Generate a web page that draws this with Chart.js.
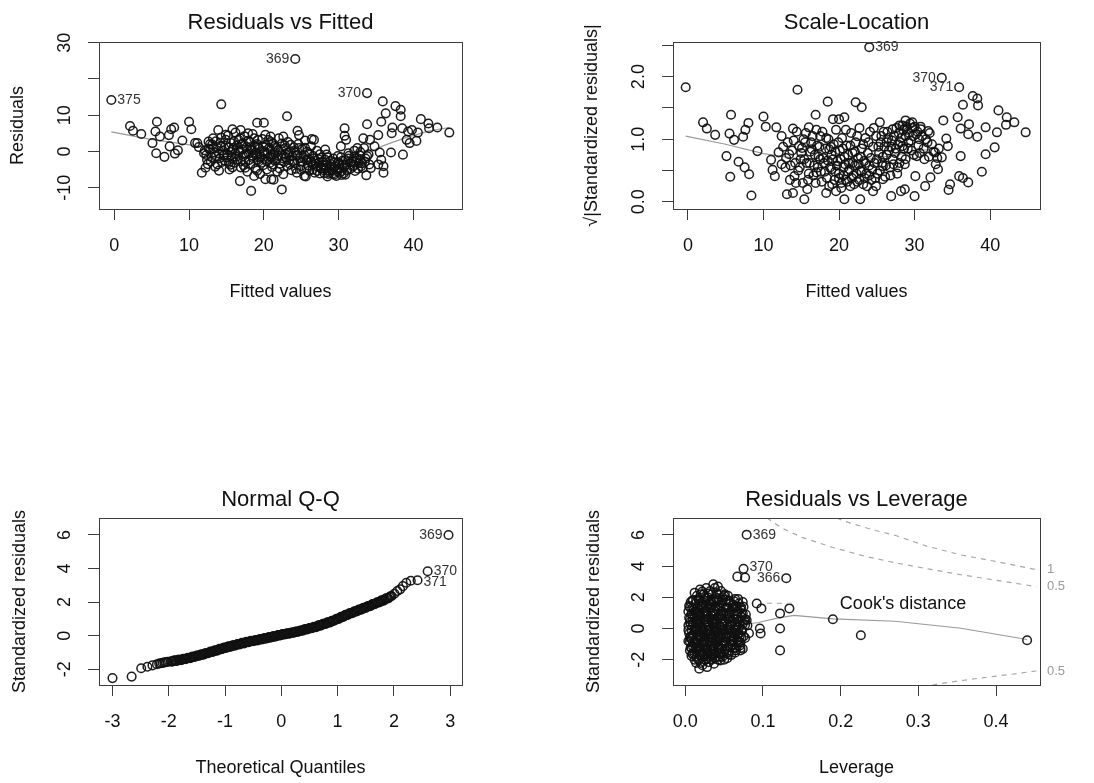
<!DOCTYPE html>
<html><head><meta charset="utf-8">
<script src="https://cdn.jsdelivr.net/npm/chart.js@4.4.0/dist/chart.umd.min.js"></script>
<style>
html,body{margin:0;padding:0;background:#fff}
body{width:1094px;height:783px;position:relative;overflow:hidden}
canvas{position:absolute}
</style></head><body>
<canvas id="c1" width="547" height="391" style="left:0;top:0"></canvas>
<canvas id="c2" width="547" height="391" style="left:547px;top:0"></canvas>
<canvas id="c3" width="547" height="392" style="left:0;top:391px"></canvas>
<canvas id="c4" width="547" height="392" style="left:547px;top:391px"></canvas>
<script>
// ---------- DATA ----------
// Residuals vs Fitted: [fitted, residual]
const residVsFitted = [
[-0.4,14.2],[2.1,7.0],[2.5,5.7],[3.6,4.8],[5.7,8.2],[5.5,5.5],[6.1,4.1],[5.1,2.3],[5.6,-0.5],[6.7,-1.5],[7.3,4.5],[7.6,6.1],[8.0,6.6],[7.4,1.4],[8.1,-0.6],[8.5,0.3],[9.1,3.0],[10.0,8.2],[10.3,6.1],[10.8,2.3],[11.3,1.2],[11.7,-5.9],[12.2,-4.5],[12.4,-2.3],[12.0,-0.5],[12.6,2.7],[13.2,3.6],[13.9,5.9],[14.0,-5.3],[13.6,-1.4],[14.3,1.4],[14.9,3.2],[15.8,6.1],[15.3,-3.2],[16.8,-8.2],[18.3,-10.9],[16.9,5.9],[17.9,5.0],[19.1,7.9],[20.0,7.9],[16.2,-0.5],[17.2,2.3],[17.5,-4.5],[18.7,-6.8],[19.2,-2.3],[18.3,0.5],[19.2,3.2],[20.2,-7.7],[16.6,3.2],[15.8,0.5],[14.7,-0.9],[12.8,0.5],[11.1,2.3],[14.3,13.0],
[24.2,25.5],[33.8,16.1],[23.1,9.7],[22.4,-10.5],[21.0,-7.7],[24.5,5.7],[24.7,4.5],[26.4,3.4],[25.4,-6.8],[22.6,4.1],[20.9,4.1],[28.2,0.5],[28.4,-0.9],[29.9,-5.0],[30.1,-5.9],[28.8,-5.9],[30.8,6.4],[30.8,4.3],[31.0,3.2],[30.3,1.4],[31.3,-0.5],[32.5,0.9],[32.9,-2.1],[33.7,-6.6],[33.8,7.5],[33.3,3.6],[34.2,3.2],[34.8,1.4],[35.3,4.5],[35.9,13.8],[36.3,10.5],[35.7,8.2],[37.2,6.6],[37.1,5.0],[37.6,12.5],[38.3,11.5],[38.3,9.7],[35.5,-0.3],[35.7,-2.3],[36.0,-4.1],[36.0,-5.9],[35.3,-3.6],[37.0,-0.3],[38.6,-0.9],[39.1,3.2],[39.3,5.5],[38.5,6.4],[39.8,5.9],[41.0,8.9],[40.6,5.2],[42.0,7.7],[42.1,6.4],[43.2,6.6],[40.4,2.9],
[44.8,5.2],[39.5,2.3],[33.0,-4.1],[32.1,-1.4],[30.7,-6.0],[29.4,-6.4],[28.5,-6.9],[27.6,-4.6],[26.7,3.2],[25.6,-6.9],[15.5,-3.7],[21.3,-7.8],
[12.3,-1.0],[12.6,0.8],[12.9,-2.8],[13.1,1.9],[13.4,-0.3],[13.6,2.8],[13.8,-3.6],[14.1,-1.9],[14.3,3.8],[14.5,0.2],[14.8,-2.6],[14.9,1.6],
[15.1,-0.9],[15.2,4.4],[15.4,-5.0],[15.6,2.3],[15.7,-1.8],[15.9,0.9],[16.1,-3.1],[16.2,5.2],[16.4,1.7],[16.5,-2.2],[16.7,-0.2],[16.8,3.6],[16.9,-4.4],[17.1,0.6],[17.2,-1.3],[17.4,4.2],[17.5,-2.9],[17.7,1.2],[17.8,-5.6],
[18.0,-0.6],[18.1,2.6],[18.2,-3.5],[18.4,0.2],[18.5,4.8],[18.6,-1.9],[18.8,1.5],[18.9,-4.8],[19.0,-0.9],[19.1,2.0],[19.3,-2.8],[19.4,0.7],[19.5,-6.2],[19.6,-1.4],[19.8,3.4],[19.9,-3.8],[20.0,0.1],[20.1,-2.1],[20.3,1.8],[20.4,-5.0],[20.5,-0.7],[20.6,3.1],[20.8,-3.2],[20.9,0.4],[21.0,-1.6],[21.1,-4.3],
[21.2,2.2],[21.4,-0.2],[21.5,-2.6],[21.6,1.0],[21.8,-5.6],[21.9,-1.2],[22.0,3.6],[22.2,-3.4],[22.3,0.5],[22.5,-1.9],[22.6,-6.3],[22.8,1.6],[22.9,-0.8],[23.1,-4.0],[23.2,2.6],[23.4,-2.4],[23.5,0.0],[23.7,-5.2],[23.8,-1.3],[24.0,1.1],[24.1,-3.2],[24.3,-0.4],[24.4,-5.9],[24.6,2.0],[24.8,-1.9],[24.9,-4.1],
[25.1,0.6],[25.2,-2.8],[25.4,-1.0],[25.5,3.0],[25.7,-4.6],[25.8,-0.1],[26.0,-2.2],[26.1,-5.3],[26.3,1.4],[26.5,-3.6],[26.6,-1.3],[26.8,-5.9],[26.9,-2.6],[27.1,0.2],[27.2,-4.2],[27.4,-3.0],[27.5,-6.1],[27.7,-1.7],[27.9,-3.8],[28.0,-5.2],[28.2,-2.3],[28.4,-4.6],[28.6,-6.2],
[28.9,-3.4],[29.1,-5.0],[29.3,-2.0],[29.5,-4.2],[29.7,-6.8],[29.9,-3.0],[30.1,-4.6],[30.3,-1.6],[30.4,-6.5],[30.6,-3.6],[30.9,-2.4],[31.1,-5.2],[31.4,-1.2],[31.6,-3.0],[31.9,-4.2],[32.1,0.2],[32.3,-2.6],[32.6,-4.8],[32.8,-1.0],[33.1,-3.3],[33.4,0.9],[33.6,-2.0],[34.0,-0.8],[34.3,-4.6],
[12.1,0.3],[12.5,-3.5],[12.8,2.0],[13.0,-1.6],[13.3,0.9],[13.5,-4.2],[13.7,1.2],[14.0,-0.6],[14.2,2.4],[14.4,-2.9],[14.6,-1.2],[14.9,4.6],[15.0,-1.7],[15.3,1.1],[15.5,-0.2],[15.8,-4.4],[16.0,2.8],[16.3,-1.5],[16.6,0.3],[16.9,-2.7],[17.0,1.9],[17.3,-3.8],[17.6,-0.6],[17.9,2.9],
[18.0,-2.4],[18.3,1.2],[18.5,-1.2],[18.7,3.6],[18.9,-0.3],[19.1,-5.3],[19.2,1.1],[19.4,-1.7],[19.7,-3.1],[19.9,1.3],[20.1,-0.4],[20.2,4.6],[20.4,-2.7],[20.7,0.9],[20.8,-1.4],[21.0,2.6],[21.2,-3.6],[21.3,-0.9],[21.5,1.5],[21.7,-2.0],[21.9,0.3],[22.1,-4.7],[22.3,-1.1],[22.4,2.2],[22.7,-2.9],[22.9,0.9],
[23.0,-1.8],[23.3,-0.4],[23.5,-3.5],[23.6,1.8],[23.9,-2.6],[24.1,0.2],[24.3,-4.8],[24.5,-1.1],[24.7,0.9],[24.9,-2.8],[25.0,-5.1],[25.3,-1.6],[25.5,1.0],[25.7,-2.4],[25.9,-3.9],[26.1,-0.6],[26.3,-2.9],[26.5,-5.0],[26.7,-1.9],[26.9,-3.4],[27.1,-5.4],[27.3,-2.2],[27.5,-0.8],[27.7,-4.7],[27.9,-2.9],
[28.1,-6.0],[28.3,-3.9],[28.5,-1.6],[28.7,-5.3],[28.9,-2.6],[29.1,-4.2],[29.3,-6.0],[29.5,-3.0],[29.7,-5.4],[29.9,-1.3],[30.1,-3.4],[30.3,-5.6],[30.5,-2.6],[30.7,-4.4],[30.9,-6.4],[31.1,-3.6],[31.3,-2.0],[31.5,-4.9],[31.8,-2.7],[32.0,-3.8],[32.2,-5.4],[32.4,-1.8],[32.7,-3.2],[32.9,-0.2],[33.2,-4.6],[33.5,-2.9],[33.8,-1.3],[34.1,-3.6]
];
const residSmooth = [[-0.4,5.4],[4.7,3.4],[11,1.5],[15,0.2],[20,-0.9],[25,-2.2],[28.5,-3.5],[31,-3.0],[33.5,-0.8],[36,1.6],[39,3.8],[42,5.6],[44.8,6.6]];

// Scale-Location: [fitted, sqrt|standardized residual|]
const scaleLocation = [
[-0.3,1.83],[2.0,1.27],[2.5,1.17],[3.6,1.07],[5.7,1.39],[5.5,1.09],[6.1,0.99],[5.1,0.73],[6.7,0.64],[7.3,1.04],[7.6,1.15],[8.0,1.26],[7.5,0.55],[8.1,0.44],[5.6,0.40],[8.4,0.10],[9.2,0.81],[10.0,1.36],[10.3,1.20],[11.0,0.67],[11.2,0.51],[11.7,1.19],[12.4,1.05],[12.0,0.79],[13.1,0.12],[13.9,0.14],[13.9,1.17],[14.5,1.79],[15.8,0.20],[15.4,0.04],[16.0,1.19],[16.9,1.39],[13.4,0.76],[14.7,0.89],[14.1,0.41],[11.5,0.41],[12.4,0.60],[18.5,1.60],[18.3,0.14],[19.6,0.17],[19.2,1.32],[17.5,1.05],[15.3,1.00],[16.4,0.84],[17.5,0.68],[17.0,0.47],[18.7,0.84],[20.0,1.32],[14.9,0.68],
[24.0,2.47],[33.6,1.98],[35.9,1.83],[22.2,1.59],[23.0,1.51],[20.7,1.35],[25.4,1.27],[28.8,1.30],[29.7,1.27],[30.8,1.16],[31.8,1.13],[33.8,1.30],[36.4,1.55],[37.7,1.69],[38.3,1.65],[38.4,1.54],[35.7,1.35],[36.1,1.17],[37.2,1.24],[37.1,1.08],[38.3,1.04],[39.4,1.19],[40.9,1.11],[41.1,1.46],[42.2,1.35],[42.1,1.23],[43.2,1.27],[40.6,0.87],[39.4,0.76],[38.9,0.48],[37.1,0.31],[35.9,0.41],[34.7,0.28],[36.1,0.73],[34.4,0.89],[34.2,1.01],[33.6,0.71],[32.7,0.79],[33.1,0.52],[32.1,0.39],[31.4,0.25],[30.3,0.73],[30.6,1.00],[30.1,0.41],[28.8,1.05],[28.4,0.89],[27.8,0.55],[28.7,0.20],[30.0,0.09],[26.9,0.09],[28.2,0.17],[25.8,0.57],[25.8,0.36],[24.9,0.25],[24.5,0.17],[22.8,0.04],[20.7,0.04],[26.3,0.95],[27.1,1.16],[28.0,1.22],[44.7,1.11],[34.5,0.19],[36.4,0.38],
[12.6,0.88],[12.9,0.55],[13.2,0.95],[13.5,0.35],[13.8,0.82],[14.2,0.62],[14.4,1.12],[14.6,0.50],[15.0,0.78],[15.2,0.30],[15.5,0.95],[15.7,0.62],[16.0,0.45],[16.2,0.80],[16.5,1.05],[16.7,0.58],[16.9,0.30],[17.1,0.90],[17.3,0.72],[17.6,0.48],[17.8,1.12],[18.0,0.62],[18.2,0.85],[18.4,0.38],[18.6,1.00],[18.8,0.55],[19.0,0.75],[19.1,0.28],[19.3,0.92],[19.5,0.48],[19.6,1.15],[19.8,0.65],[20.0,0.38],[20.1,0.82],[20.3,0.22],[20.4,1.02],[20.6,0.55],[20.7,0.72],[20.9,0.35],[21.0,0.90],[21.2,0.48],[21.3,0.62],[21.5,0.25],[21.6,1.10],[21.8,0.78],[21.9,0.42],[22.1,0.58],[22.2,0.95],[22.4,0.32],[22.5,0.70],[22.7,1.18],[22.8,0.50],[23.0,0.85],[23.2,0.28],[23.3,0.65],[23.5,1.02],[23.6,0.45],[23.8,0.78],[24.0,0.58],[24.1,1.12],[24.3,0.35],[24.5,0.88],[24.7,0.62],[24.9,1.05],[25.1,0.45],[25.3,0.78],[25.5,0.95],[25.7,0.62],[25.9,1.12],[26.1,0.40],[26.3,0.75],[26.5,1.02],[26.7,0.55],[26.9,0.88],[27.1,0.68],[27.3,1.05],[27.5,0.85],[27.7,0.45],[27.9,1.10],[28.1,0.95],[28.3,0.72],[28.5,1.15],[28.7,0.60],[28.9,1.20],[29.1,0.85],[29.3,1.10],[29.5,0.98],[29.7,1.18],[29.9,0.75],[30.2,1.08],[30.5,0.90],[30.8,1.20],[31.2,0.85],[31.5,1.00],[31.9,0.72],[32.3,0.92],[32.8,0.60],[33.2,0.85],
[13.0,0.70],[13.6,0.58],[14.0,0.98],[14.3,0.30],[14.8,0.55],[15.1,0.86],[15.4,0.68],[15.6,1.10],[15.9,0.35],[16.1,0.62],[16.3,0.95],[16.6,0.42],[16.8,0.75],[17.0,1.15],[17.2,0.55],[17.4,0.88],[17.7,0.32],[17.9,0.70],[18.1,0.48],[18.3,1.02],[18.5,0.66],[18.7,0.25],[18.9,0.88],[19.0,0.52],[19.2,0.68],[19.4,0.35],[19.5,0.80],[19.7,0.58],[19.9,0.95],[20.0,0.45],[20.2,0.68],[20.3,0.30],[20.5,0.85],[20.6,0.42],[20.8,0.60],[20.9,1.15],[21.1,0.32],[21.2,0.75],[21.4,0.52],[21.5,0.90],[21.7,0.38],[21.8,0.62],[22.0,0.28],[22.1,0.80],[22.3,0.45],[22.4,1.05],[22.6,0.60],[22.7,0.35],[22.9,0.72],[23.0,0.48],[23.2,0.92],[23.4,0.38],[23.5,0.62],[23.7,0.25],[23.9,0.95],[24.0,0.42],[24.2,0.70],[24.4,0.52],[24.6,1.18],[24.8,0.38],[25.0,0.68],[25.2,0.88],[25.4,0.50],[25.6,1.05],[25.8,0.72],[26.0,0.88],[26.2,0.58],[26.4,1.12],[26.6,0.82],[26.8,0.42],[27.0,0.98],[27.2,0.60],[27.4,0.78],[27.6,1.18],[27.8,0.92],[28.0,0.62],[28.2,1.02],[28.4,1.22],[28.6,0.85],[28.8,0.68],[29.0,1.15],[29.2,0.95],[29.4,1.25],[29.6,0.82],[29.8,1.05],[30.0,1.20],[30.4,1.12],[30.7,0.78],[31.0,1.05],[31.3,0.68],[31.7,0.95],[32.0,1.10],[32.5,0.80],[33.0,0.70]
];
const scaleSmooth = [[-0.3,1.05],[5,0.92],[10,0.77],[15,0.68],[20,0.63],[25,0.70],[30,0.80],[32,0.84]];

// Normal Q-Q: [theoretical quantile, standardized residual]
const normalQQ = [
[-3.00,-2.53],[-2.66,-2.44],[-2.49,-1.94],[-2.38,-1.85],[-2.29,-1.77],[-2.21,-1.70],[-2.17,-1.66],[-2.14,-1.64],[-2.11,-1.62],[-2.08,-1.60],[-2.05,-1.58],[-2.02,-1.56],
[-1.96,-1.53],[-1.92,-1.51],[-1.88,-1.49],[-1.84,-1.47],[-1.80,-1.45],[-1.76,-1.42],[-1.72,-1.39],[-1.68,-1.36],[-1.64,-1.33],[-1.60,-1.30],
[-1.56,-1.26],[-1.52,-1.23],[-1.48,-1.19],[-1.44,-1.16],[-1.40,-1.12],[-1.36,-1.08],[-1.32,-1.04],[-1.28,-1.00],[-1.24,-0.96],[-1.20,-0.92],
[-1.16,-0.88],[-1.12,-0.84],[-1.08,-0.80],[-1.04,-0.76],[-1.00,-0.72],[-0.96,-0.68],[-0.92,-0.65],[-0.88,-0.61],[-0.84,-0.58],[-0.80,-0.54],
[-0.76,-0.51],[-0.72,-0.48],[-0.68,-0.44],[-0.64,-0.41],[-0.60,-0.38],[-0.56,-0.35],[-0.52,-0.32],[-0.48,-0.30],[-0.44,-0.27],[-0.40,-0.24],
[-0.36,-0.21],[-0.32,-0.18],[-0.28,-0.16],[-0.24,-0.13],[-0.20,-0.10],[-0.16,-0.07],[-0.12,-0.04],[-0.08,-0.01],[-0.04,0.02],[0.00,0.05],
[0.04,0.08],[0.08,0.10],[0.12,0.13],[0.16,0.15],[0.20,0.18],[0.24,0.21],[0.28,0.24],[0.32,0.27],[0.36,0.31],[0.40,0.34],
[0.44,0.38],[0.48,0.41],[0.52,0.45],[0.56,0.48],[0.60,0.52],[0.64,0.56],[0.68,0.61],[0.72,0.65],[0.76,0.70],[0.80,0.74],
[0.84,0.79],[0.88,0.84],[0.92,0.89],[0.96,0.95],[1.00,1.00],[1.04,1.06],[1.08,1.12],[1.12,1.18],[1.16,1.24],[1.20,1.30],
[1.24,1.35],[1.28,1.40],[1.32,1.45],[1.36,1.51],[1.40,1.56],[1.44,1.61],[1.48,1.66],[1.52,1.72],[1.56,1.77],[1.60,1.82],
[1.64,1.88],[1.68,1.93],[1.72,1.99],[1.76,2.04],[1.80,2.10],[1.84,2.17],[1.88,2.23],[1.92,2.30],[1.96,2.36],
[-1.94,-1.55],[-1.90,-1.47],[-1.86,-1.50],[-1.82,-1.43],[-1.78,-1.46],[-1.74,-1.38],[-1.70,-1.40],[-1.66,-1.32],[-1.62,-1.34],[-1.58,-1.25],
[-1.54,-1.27],[-1.50,-1.18],[-1.46,-1.20],[-1.42,-1.11],[-1.38,-1.13],[-1.34,-1.03],[-1.30,-1.05],[-1.26,-0.95],[-1.22,-0.97],[-1.18,-0.87],
[-1.14,-0.89],[-1.10,-0.79],[-1.06,-0.81],[-1.02,-0.71],[-0.98,-0.73],[-0.94,-0.64],[-0.90,-0.66],[-0.86,-0.57],[-0.82,-0.59],[-0.78,-0.50],
[-0.74,-0.52],[-0.70,-0.43],[-0.66,-0.46],[-0.62,-0.37],[-0.58,-0.39],[-0.54,-0.31],[-0.50,-0.33],[-0.46,-0.26],[-0.42,-0.28],[-0.38,-0.20],
[-0.34,-0.22],[-0.30,-0.14],[-0.26,-0.17],[-0.22,-0.09],[-0.18,-0.11],[-0.14,-0.03],[-0.10,-0.05],[-0.06,0.03],[-0.02,0.01],[0.02,0.09],
[0.06,0.07],[0.10,0.14],[0.14,0.12],[0.18,0.19],[0.22,0.17],[0.26,0.25],[0.30,0.23],[0.34,0.31],[0.38,0.30],[0.42,0.39],
[0.46,0.37],[0.50,0.46],[0.54,0.44],[0.58,0.53],[0.62,0.51],[0.66,0.61],[0.70,0.60],[0.74,0.70],[0.78,0.69],[0.82,0.79],
[0.86,0.78],[0.90,0.89],[0.94,0.89],[0.98,1.00],[1.02,0.99],[1.06,1.12],[1.10,1.11],[1.14,1.24],[1.18,1.23],[1.22,1.35],
[1.26,1.34],[1.30,1.45],[1.34,1.44],[1.38,1.56],[1.42,1.55],[1.46,1.66],[1.50,1.65],[1.54,1.77],[1.58,1.76],[1.62,1.88],
[1.66,1.87],[1.70,1.99],[1.74,1.98],[1.78,2.10],[1.82,2.09],[1.86,2.23],[1.90,2.22],[1.94,2.35],
[2.01,2.50],[2.06,2.66],[2.11,2.76],[2.16,2.95],[2.22,3.15],[2.30,3.27],[2.42,3.30],[2.60,3.84],[2.97,6.00]
];

// Residuals vs Leverage: [leverage, standardized residual]
const residVsLeverage = [
[0.079,6.02],[0.075,3.83],[0.067,3.33],[0.077,3.27],[0.130,3.23],[0.036,2.84],[0.042,2.69],[0.022,2.37],[0.018,-2.58],[0.028,-2.47],[0.071,-1.40],[0.077,-0.60],[0.092,1.61],[0.098,1.29],[0.096,0.00],[0.097,-0.32],[0.122,0.97],[0.134,1.29],[0.122,0.00],[0.122,-1.40],[0.190,0.60],[0.226,-0.43],[0.440,-0.75],
[0.005,1.45],[0.006,0.4],[0.006,-0.6],[0.007,-1.2],[0.008,0.9],[0.008,-0.1],[0.009,1.8],[0.009,-1.6],[0.010,0.3],[0.010,-0.9],[0.011,1.2],[0.011,-0.4],[0.012,-2.0],[0.012,0.7],[0.013,-1.3],[0.013,1.6],[0.014,0.0],[0.014,-0.7],[0.015,2.1],[0.015,-1.8],[0.015,0.5],
[0.016,-0.2],[0.016,1.0],[0.017,-1.1],[0.017,1.9],[0.018,0.3],[0.018,-1.5],[0.019,-0.5],[0.019,1.4],[0.020,-2.2],[0.020,0.8],[0.021,-0.9],[0.021,0.1],[0.022,1.7],[0.022,-1.7],[0.023,0.5],[0.023,-0.3],[0.024,2.2],[0.024,-1.2],[0.025,1.1],[0.025,-0.7],
[0.026,0.2],[0.026,-2.0],[0.027,1.5],[0.027,-0.1],[0.028,-1.4],[0.028,0.8],[0.029,2.0],[0.029,-0.8],[0.030,0.4],[0.030,-1.8],[0.031,1.2],[0.031,-0.4],[0.032,2.4],[0.032,-1.1],[0.033,0.0],[0.033,1.7],[0.034,-1.6],[0.034,0.6],[0.035,-0.6],[0.035,1.0],
[0.036,-1.3],[0.036,0.3],[0.037,1.9],[0.037,-0.2],[0.038,-1.9],[0.038,0.9],[0.039,1.4],[0.039,-0.9],[0.040,0.1],[0.040,2.3],[0.041,-1.5],[0.041,0.6],[0.042,-0.4],[0.042,1.2],[0.043,-1.1],[0.043,1.8],[0.044,0.2],[0.044,-1.8],[0.045,0.9],[0.045,-0.6],
[0.046,1.5],[0.047,-1.3],[0.047,0.3],[0.048,2.0],[0.049,-0.3],[0.049,1.0],[0.050,-1.6],[0.051,0.5],[0.051,2.2],[0.052,-0.9],[0.053,1.3],[0.053,-0.1],[0.054,-1.9],[0.055,0.8],[0.056,1.7],[0.057,-0.5],[0.058,0.2],[0.058,-1.2],[0.059,1.1],[0.060,-0.2],
[0.061,1.5],[0.062,-0.8],[0.063,0.6],[0.064,1.9],[0.065,-1.4],[0.066,0.1],[0.067,1.1],[0.068,-0.4],[0.069,1.6],[0.070,0.4],[0.071,-0.9],[0.072,1.0],[0.073,-0.1],[0.074,1.7],[0.076,0.5],[0.078,0.9],[0.080,0.2],[0.082,-0.3],
[0.012,2.3],[0.019,2.5],[0.027,2.6],[0.034,2.2],[0.046,2.4],[0.055,2.1],[0.038,2.6],
[0.007,1.7],[0.014,1.85],[0.021,1.55],[0.026,1.95],[0.031,1.6],[0.036,1.75],[0.041,1.95],[0.046,1.65],[0.052,1.85],[0.058,1.6],[0.063,1.75],[0.068,1.9],
[0.004,1.1],[0.009,1.3],[0.013,1.05],[0.018,1.2],[0.022,1.45],[0.027,1.1],[0.032,1.35],[0.037,1.15],[0.042,1.45],[0.047,1.1],[0.052,1.35],[0.057,1.05],[0.062,1.3],[0.066,1.45],[0.071,1.25],[0.075,1.4],
[0.005,0.7],[0.010,0.85],[0.014,0.55],[0.019,0.75],[0.024,0.95],[0.028,0.6],[0.033,0.85],[0.038,0.55],[0.043,0.8],[0.048,0.65],[0.053,0.95],[0.058,0.7],[0.063,0.9],[0.067,0.6],[0.072,0.75],[0.077,0.6],
[0.004,0.2],[0.009,0.45],[0.013,0.15],[0.017,0.35],[0.022,0.05],[0.026,0.45],[0.031,0.15],[0.035,0.4],[0.040,0.25],[0.045,0.05],[0.050,0.35],[0.055,0.1],[0.060,0.45],[0.064,0.25],[0.069,0.05],[0.074,0.3],[0.079,0.55],
[0.005,-0.3],[0.009,-0.45],[0.013,-0.2],[0.018,-0.4],[0.022,-0.1],[0.027,-0.35],[0.031,-0.15],[0.036,-0.45],[0.041,-0.2],[0.046,-0.35],[0.050,-0.05],[0.055,-0.3],[0.060,-0.45],[0.064,-0.15],[0.069,-0.3],[0.075,-0.5],
[0.004,-0.8],[0.008,-0.65],[0.012,-0.95],[0.016,-0.7],[0.021,-0.55],[0.025,-0.9],[0.030,-0.65],[0.034,-0.85],[0.039,-0.55],[0.044,-0.75],[0.048,-0.95],[0.053,-0.6],[0.058,-0.8],[0.063,-0.55],[0.067,-0.75],[0.072,-0.6],
[0.006,-1.4],[0.010,-1.15],[0.014,-1.45],[0.019,-1.25],[0.023,-1.05],[0.028,-1.3],[0.032,-1.45],[0.037,-1.1],[0.042,-1.3],[0.046,-1.05],[0.051,-1.35],[0.056,-1.5],[0.061,-1.1],[0.066,-1.25],[0.070,-1.1],[0.074,-1.3],
[0.008,-1.75],[0.012,-1.6],[0.016,-1.95],[0.021,-1.55],[0.025,-1.8],[0.029,-1.6],[0.033,-1.95],[0.038,-1.65],[0.043,-1.55],[0.048,-1.8],[0.053,-1.6],[0.059,-1.7],[0.064,-1.55],
[0.014,-2.2],[0.022,-2.35],[0.030,-2.15],[0.037,-2.25],[0.045,-2.05],
[0.020,2.2],[0.030,2.25],[0.042,2.2],[0.050,2.1],
[0.010,1.8],[0.018,1.8],[0.025,1.8],[0.033,1.8],[0.040,1.8],[0.048,1.8],[0.056,1.8],
[0.006,1.35],[0.015,1.35],[0.024,1.35],[0.034,1.35],[0.044,1.35],[0.054,1.35],[0.064,1.35],[0.072,1.35],
[0.008,0.95],[0.017,0.95],[0.026,0.95],[0.036,0.95],[0.046,0.95],[0.056,0.95],[0.066,0.95],[0.074,0.95],
[0.006,0.6],[0.016,0.6],[0.026,0.6],[0.036,0.6],[0.046,0.6],[0.056,0.6],[0.066,0.6],
[0.007,0.25],[0.019,0.25],[0.029,0.25],[0.038,0.25],[0.048,0.25],[0.058,0.25],[0.067,0.25],[0.077,0.25],
[0.004,-0.1],[0.012,-0.1],[0.020,-0.1],[0.030,-0.1],[0.039,-0.1],[0.048,-0.1],[0.057,-0.1],[0.066,-0.1],[0.073,-0.1],
[0.007,-0.5],[0.016,-0.5],[0.025,-0.5],[0.034,-0.5],[0.043,-0.5],[0.052,-0.5],[0.062,-0.5],[0.070,-0.5],
[0.006,-0.85],[0.014,-0.85],[0.023,-0.85],[0.032,-0.85],[0.041,-0.85],[0.050,-0.85],[0.060,-0.85],[0.069,-0.85],
[0.008,-1.25],[0.017,-1.25],[0.026,-1.25],[0.035,-1.25],[0.044,-1.25],[0.054,-1.25],[0.063,-1.25],[0.071,-1.25],
[0.010,-1.65],[0.019,-1.65],[0.027,-1.65],[0.036,-1.65],[0.046,-1.65],[0.056,-1.65],
[0.018,-2.0],[0.026,-2.0],[0.034,-2.0],[0.042,-2.0],[0.050,-2.0]
];
const leverageSmooth = [[0.007,-0.32],[0.036,0.0],[0.069,0.21],[0.094,0.39],[0.12,0.68],[0.14,0.84],[0.19,0.62],[0.27,0.47],[0.355,0.02],[0.44,-0.70]];
const cookUpper1  = [[0.195,7.1],[0.204,6.9],[0.24,6.35],[0.272,5.95],[0.31,5.3],[0.355,4.72],[0.40,4.3],[0.452,3.78]];
const cookUpper05 = [[0.105,7.1],[0.124,6.45],[0.15,5.85],[0.19,5.2],[0.23,4.65],[0.272,4.2],[0.31,3.85],[0.355,3.45],[0.40,3.1],[0.452,2.69]];
const cookLower05 = [[0.318,-3.62],[0.34,-3.44],[0.38,-3.17],[0.42,-2.93],[0.452,-2.72]];

// Tick values & labels
const fittedTicks = [0,10,20,30,40];
const fittedTickLabels = ['0','10','20','30','40'];
const residTicks = [-10,0,10,20,30];
const residTickLabels = ['-10','0','10','','30'];
const sqrtTicks = [0,0.5,1,1.5,2,2.5];
const sqrtTickLabels = ['0.0','','1.0','','2.0',''];
const qqTicks = [-3,-2,-1,0,1,2,3];
const qqTickLabels = ['-3','-2','-1','0','1','2','3'];
const stdTicks = [-2,0,2,4,6];
const stdTickLabels = ['-2','0','2','4','6'];
const levTicks = [0,0.1,0.2,0.3,0.4];
const levTickLabels = ['0.0','0.1','0.2','0.3','0.4'];

// ---------- RENDERING ----------
const FONT = "'Liberation Sans', Arial, Helvetica, sans-serif";
const toXY = arr => arr.map(p => ({x: p[0], y: p[1]}));
const SPECS = {};

const textPlugin = {
  id: 'rtext',
  afterDraw(chart) {
    const s = SPECS[chart.canvas.id];
    const {ctx, chartArea: a} = chart;
    const xs = chart.scales.x, ys = chart.scales.y;
    ctx.save();
    ctx.strokeStyle = '#3c3c3c'; ctx.lineWidth = 1;
    ctx.strokeRect(a.left + 0.5, a.top + 0.5, a.right - a.left, a.bottom - a.top);
    ctx.fillStyle = '#111'; ctx.textAlign = 'center'; ctx.textBaseline = 'middle';
    ctx.font = '22px ' + FONT;
    ctx.fillText(s.title, (a.left + a.right) / 2, s.titleY);
    ctx.font = '18px ' + FONT;
    ctx.fillText(s.xTitle, (a.left + a.right) / 2, s.xTitleY);
    ctx.save(); ctx.translate(s.yTitleX, (a.top + a.bottom) / 2); ctx.rotate(-Math.PI / 2);
    ctx.fillText(s.yTitle, 0, 0); ctx.restore();
    s.yTicks.forEach((v, i) => {
      const lab = s.yTickLabels[i]; if (!lab) return;
      ctx.save(); ctx.translate(a.left - 34, ys.getPixelForValue(v)); ctx.rotate(-Math.PI / 2);
      ctx.fillText(lab, 0, 0); ctx.restore();
    });
    ctx.font = '14px ' + FONT; ctx.fillStyle = '#333';
    s.pointLabels.forEach(l => {
      const px = xs.getPixelForValue(l.x), py = ys.getPixelForValue(l.y);
      ctx.textAlign = l.side === 'left' ? 'right' : 'left';
      ctx.fillText(l.text, px + (l.side === 'left' ? -6 : 6), py + (l.dy || 0));
    });
    if (s.extra) s.extra(ctx, chart, xs, ys, a);
    ctx.restore();
  }
};

function makePanel(id, s) {
  SPECS[id] = s;
  const cv = document.getElementById(id);
  const W = cv.width, H = cv.height;
  const gridOpt = {drawOnChartArea: false, drawTicks: true, tickLength: 11, color: '#3c3c3c', lineWidth: 1};
  const datasets = [{
    data: toXY(s.points), showLine: false, pointStyle: 'circle', pointRadius: 4.3,
    pointBorderWidth: 1.5, pointBorderColor: 'rgba(17,17,17,0.95)', pointBackgroundColor: 'rgba(0,0,0,0)'
  }];
  (s.lines || []).forEach(l => datasets.push({
    data: toXY(l.data), showLine: true, pointRadius: 0, borderColor: l.color, borderWidth: l.width || 1,
    borderDash: l.dash || [], fill: false, tension: 0
  }));
  new Chart(cv, {
    type: 'scatter',
    data: {datasets},
    options: {
      responsive: false, animation: false, events: [],
      layout: {padding: {left: 0, top: s.area.top, right: W - s.area.right, bottom: H - s.area.bottom - 80}},
      plugins: {legend: {display: false}, tooltip: {enabled: false}},
      scales: {
        x: {type: 'linear', position: 'bottom', min: s.xMin, max: s.xMax,
            afterFit: sc => { sc.height = 80; },
            afterBuildTicks: sc => { sc.ticks = s.xTicks.map(v => ({value: v})); },
            ticks: {autoSkip: false, maxRotation: 0, minRotation: 0, padding: 15, color: '#111',
                    font: {family: FONT, size: 18}, callback: (v, i) => s.xTickLabels[i]},
            grid: gridOpt, border: {display: false}},
        y: {type: 'linear', position: 'left', min: s.yMin, max: s.yMax,
            afterFit: sc => { sc.width = s.area.left; },
            afterBuildTicks: sc => { sc.ticks = s.yTicks.map(v => ({value: v})); },
            ticks: {display: false},
            grid: gridOpt, border: {display: false}}
      }
    },
    plugins: [textPlugin]
  });
}

makePanel('c1', {
  area: {left: 99, right: 462, top: 42, bottom: 209},
  xMin: -2.05, xMax: 46.5, yMin: -15.9, yMax: 30.2,
  xTicks: fittedTicks, xTickLabels: fittedTickLabels, yTicks: residTicks, yTickLabels: residTickLabels,
  title: 'Residuals vs Fitted', titleY: 23, xTitle: 'Fitted values', xTitleY: 292, yTitle: 'Residuals', yTitleX: 18,
  points: residVsFitted,
  lines: [{data: residSmooth, color: '#9a9a9a', width: 1.2}],
  pointLabels: [{x: -0.4, y: 14.2, text: '375', side: 'right'}, {x: 24.2, y: 25.5, text: '369', side: 'left'}, {x: 33.8, y: 16.1, text: '370', side: 'left'}]
});
makePanel('c2', {
  area: {left: 126, right: 493, top: 42, bottom: 209},
  xMin: -1.98, xMax: 46.6, yMin: -0.115, yMax: 2.553,
  xTicks: fittedTicks, xTickLabels: fittedTickLabels, yTicks: sqrtTicks, yTickLabels: sqrtTickLabels,
  title: 'Scale-Location', titleY: 23, xTitle: 'Fitted values', xTitleY: 292, yTitle: '\u221A|Standardized residuals|', yTitleX: 45,
  points: scaleLocation,
  lines: [{data: scaleSmooth, color: '#9a9a9a', width: 1.2}],
  pointLabels: [{x: 24.0, y: 2.47, text: '369', side: 'right'}, {x: 33.6, y: 1.98, text: '370', side: 'left'}, {x: 35.9, y: 1.83, text: '371', side: 'left'}]
});
makePanel('c3', {
  area: {left: 99, right: 462, top: 127, bottom: 294},
  xMin: -3.24, xMax: 3.21, yMin: -2.94, yMax: 7.01,
  xTicks: qqTicks, xTickLabels: qqTickLabels, yTicks: stdTicks, yTickLabels: stdTickLabels,
  title: 'Normal Q-Q', titleY: 109, xTitle: 'Theoretical Quantiles', xTitleY: 377, yTitle: 'Standardized residuals', yTitleX: 20,
  points: normalQQ,
  pointLabels: [{x: 2.97, y: 6.0, text: '369', side: 'left'}, {x: 2.60, y: 3.84, text: '370', side: 'right'}, {x: 2.42, y: 3.30, text: '371', side: 'right', dy: 2}]
});
makePanel('c4', {
  area: {left: 126, right: 493, top: 127, bottom: 294},
  xMin: -0.0158, xMax: 0.4566, yMin: -3.62, yMax: 7.09,
  xTicks: levTicks, xTickLabels: levTickLabels, yTicks: stdTicks, yTickLabels: stdTickLabels,
  title: 'Residuals vs Leverage', titleY: 109, xTitle: 'Leverage', xTitleY: 377, yTitle: 'Standardized residuals', yTitleX: 47,
  points: residVsLeverage,
  lines: [
    {data: leverageSmooth, color: '#9a9a9a', width: 1.2},
    {data: cookUpper1, color: '#a8a8a8', width: 1.2, dash: [5, 5]},
    {data: cookUpper05, color: '#a8a8a8', width: 1.2, dash: [5, 5]},
    {data: cookLower05, color: '#a8a8a8', width: 1.2, dash: [5, 5]}
  ],
  pointLabels: [{x: 0.079, y: 6.02, text: '369', side: 'right'}, {x: 0.075, y: 3.83, text: '370', side: 'right', dy: -2}, {x: 0.130, y: 3.23, text: '366', side: 'left'}],
  extra: (ctx, chart, xs, ys, a) => {
    ctx.fillStyle = '#111'; ctx.font = '18px ' + FONT; ctx.textAlign = 'left'; ctx.textBaseline = 'middle';
    ctx.fillText("Cook's distance", xs.getPixelForValue(0.199), ys.getPixelForValue(1.57));
    ctx.strokeStyle = '#b0b0b0'; ctx.setLineDash([5, 5]); ctx.lineWidth = 1.2;
    ctx.beginPath();
    ctx.moveTo(xs.getPixelForValue(0.105), ys.getPixelForValue(1.62));
    ctx.lineTo(xs.getPixelForValue(0.142), ys.getPixelForValue(1.62));
    ctx.stroke(); ctx.setLineDash([]);
    ctx.fillStyle = '#999'; ctx.font = '13px ' + FONT;
    const ends = [[cookUpper1, '1'], [cookUpper05, '0.5'], [cookLower05, '0.5']];
    ends.forEach(([c, t]) => {
      const last = c[c.length - 1];
      ctx.fillText(t, a.right + 7, ys.getPixelForValue(last[1]));
    });
  }
});
</script>
</body></html>
